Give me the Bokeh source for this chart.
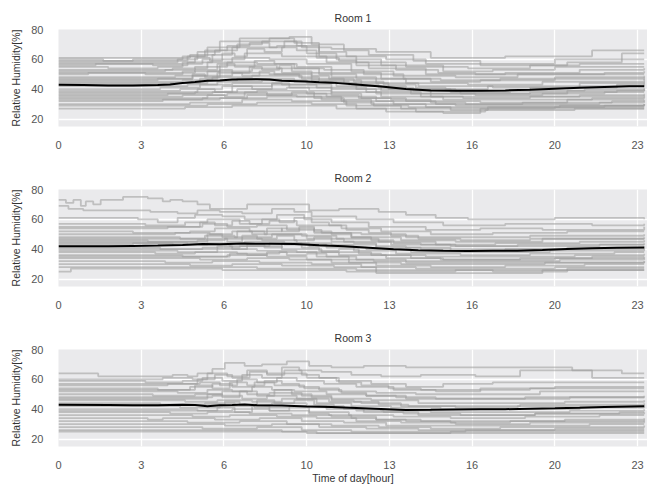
import numpy as np
from bokeh.plotting import figure
from bokeh.layouts import column
from bokeh.models import FixedTicker, Range1d
from bokeh.embed import file_html
from bokeh.resources import INLINE

# ---------------- data (hours, value) pairs, flat ----------------
X_TICKS = [0, 200, 400, 600, 800, 1000, 1200, 1400]          # minutes of day
X_TICK_LABELS = ["0", "3", "6", "10", "13", "16", "20", "23"]
Y_TICKS = [20, 40, 60, 80]
ROOM_TITLES = ["Room 1", "Room 2", "Room 3"]
Y_LABEL = "Relative Humidity[%]"
X_LABEL = "Time of day[hour]"

ROOM1_TRACES = [
    [0, 61, 4.5, 61, 5.3, 63, 6.3, 66, 7.2, 70, 8.2, 72, 9.8, 68, 11.0, 67, 12.8, 65, 15.0, 61, 18.0, 62, 21.5, 66, 23.6, 66],
    [0, 60, 1.8, 59, 3.0, 60, 5.0, 62, 6.0, 68, 7.3, 74, 9.3, 75, 10.2, 70, 11.5, 66, 12.5, 63, 14.3, 59, 17.0, 56, 20.5, 58, 22.7, 64, 23.6, 64],
    [0, 58, 2.4, 58, 4.8, 60, 5.6, 65, 6.5, 72, 8.5, 74, 9.5, 71, 10.5, 62, 12.0, 58, 14.0, 55, 16.5, 54, 19.0, 56, 21.0, 57, 23.6, 57],
    [0, 56, 1.5, 57, 3.8, 56, 5.2, 58, 6.2, 63, 7.0, 68, 8.8, 69, 10.0, 64, 11.2, 60, 13.0, 56, 15.5, 52, 17.5, 53, 20.0, 55, 23.6, 55],
    [0, 55, 2.0, 54, 4.0, 55, 5.0, 57, 5.8, 60, 7.5, 64, 9.0, 62, 10.8, 58, 12.5, 54, 14.8, 50, 18.0, 51, 21.0, 53, 23.6, 54],
    [0, 53, 3.0, 53, 4.6, 54, 6.0, 58, 7.0, 61, 8.5, 60, 10.0, 57, 11.8, 52, 13.5, 49, 16.0, 48, 18.5, 50, 22.0, 51, 23.6, 52],
    [0, 52, 2.5, 52, 4.3, 53, 5.5, 55, 6.8, 58, 8.0, 57, 9.6, 55, 11.0, 51, 13.0, 47, 15.0, 45, 17.0, 46, 20.0, 48, 23.6, 49],
    [0, 50, 1.2, 51, 3.5, 50, 5.0, 52, 6.5, 56, 8.8, 54, 10.5, 50, 12.0, 47, 14.0, 44, 16.5, 43, 19.5, 45, 23.6, 47],
    [0, 48, 2.8, 48, 4.7, 49, 6.0, 52, 7.8, 54, 9.0, 51, 11.0, 48, 12.8, 44, 14.5, 42, 17.5, 41, 21.0, 44, 23.6, 45],
    [0, 46, 1.6, 46, 4.0, 47, 5.4, 49, 7.0, 51, 8.5, 50, 10.2, 46, 12.2, 42, 14.0, 40, 16.0, 39, 19.0, 41, 22.5, 43, 23.6, 43],
    [0, 45, 3.3, 45, 5.0, 46, 6.2, 48, 7.8, 49, 9.8, 47, 11.5, 44, 13.3, 40, 15.8, 38, 18.2, 39, 21.2, 40, 23.6, 41],
    [0, 43, 2.2, 43, 4.5, 44, 6.0, 46, 7.2, 47, 9.5, 45, 11.2, 42, 13.0, 39, 15.0, 37, 18.0, 37, 20.5, 39, 23.6, 40],
    [0, 42, 3.6, 42, 5.2, 43, 6.4, 45, 8.2, 46, 10.0, 44, 12.0, 40, 14.2, 37, 16.8, 36, 19.5, 37, 22.0, 38, 23.6, 38],
    [0, 40, 1.0, 40, 4.1, 41, 5.7, 43, 7.0, 44, 9.0, 43, 11.0, 40, 12.8, 37, 15.0, 35, 17.5, 35, 21.0, 36, 23.6, 37],
    [0, 39, 2.6, 39, 4.9, 40, 6.6, 42, 8.6, 43, 10.4, 41, 12.4, 38, 14.6, 35, 16.3, 34, 19.0, 35, 23.6, 36],
    [0, 37, 3.1, 37, 5.5, 38, 7.2, 40, 9.2, 41, 11.0, 38, 13.0, 35, 15.5, 33, 18.5, 33, 21.5, 34, 23.6, 35],
    [0, 36, 1.4, 36, 4.4, 37, 6.2, 38, 8.0, 39, 10.0, 37, 12.2, 34, 14.0, 32, 17.0, 31, 20.5, 33, 23.6, 33],
    [0, 35, 2.3, 35, 5.0, 36, 6.8, 37, 8.8, 37, 10.8, 35, 12.8, 32, 15.2, 30, 17.8, 30, 21.8, 31, 23.6, 32],
    [0, 33, 3.8, 33, 5.8, 34, 7.6, 36, 9.6, 35, 11.4, 32, 13.5, 30, 16.0, 29, 19.2, 29, 23.6, 30],
    [0, 32, 1.9, 32, 4.2, 33, 6.5, 34, 8.4, 35, 10.6, 33, 12.6, 30, 14.8, 28, 18.0, 28, 22.0, 29, 23.6, 29],
    [0, 30, 2.9, 30, 5.3, 31, 7.4, 33, 9.4, 32, 11.6, 29, 13.8, 27, 16.6, 27, 20.0, 28, 23.6, 28],
    [0, 29, 3.4, 29, 6.0, 30, 8.0, 31, 10.2, 30, 12.0, 27, 14.4, 25, 17.2, 26, 20.8, 27, 23.6, 27],
    [0, 27, 2.0, 27, 5.1, 28, 7.0, 29, 9.0, 29, 11.2, 27, 13.2, 25, 15.5, 24, 17.0, 27, 23.6, 27],
    [0, 57, 5.0, 58, 5.5, 61, 6.1, 59, 6.6, 64, 7.1, 62, 7.6, 67, 8.3, 65, 9.0, 68, 9.6, 66, 10.4, 61, 11.3, 59, 12.0, 56, 13.6, 53, 15.3, 51, 16.8, 50, 19.8, 50, 23.6, 50],
    [0, 47, 4.8, 47, 5.4, 50, 5.9, 48, 6.5, 53, 7.0, 51, 7.7, 55, 8.2, 53, 8.9, 56, 9.4, 52, 10.2, 49, 10.9, 47, 11.9, 45, 13.1, 43, 14.4, 41, 15.6, 40, 17.3, 42, 19.9, 42, 23.6, 44],
    [0, 38, 4.7, 38, 5.6, 40, 6.3, 38, 7.0, 42, 7.8, 40, 8.6, 44, 9.3, 41, 10.1, 39, 11.0, 36, 12.1, 34, 13.4, 33, 15.0, 31, 16.4, 30, 18.7, 31, 22.3, 32, 23.6, 33],
    [0, 44, 5.2, 44, 5.7, 47, 6.4, 51, 7.4, 49, 8.1, 52, 8.7, 50, 9.7, 48, 10.5, 45, 11.7, 43, 12.9, 41, 14.3, 39, 16.2, 37, 19.0, 38, 22.5, 39, 23.6, 40],
    [0, 34, 5.4, 34, 6.0, 36, 6.7, 35, 7.5, 38, 8.4, 36, 9.4, 38, 10.3, 34, 11.5, 31, 12.7, 29, 14.1, 28, 15.8, 26, 17.3, 28, 20.2, 29, 23.6, 30],
    [0, 59, 4.6, 59, 5.2, 62, 5.9, 66, 6.8, 69, 7.7, 71, 8.5, 68, 9.1, 72, 9.6, 69, 10.5, 65, 11.6, 62, 13.2, 60, 14.8, 57, 16.5, 57, 20.0, 60, 23.6, 60],
    [0, 51, 4.9, 51, 5.5, 53, 6.4, 57, 7.1, 55, 7.9, 59, 8.7, 57, 9.5, 54, 10.7, 53, 12.3, 50, 13.9, 47, 15.4, 46, 17.8, 47, 20.6, 47, 23.6, 48],
]
ROOM1_MEAN = [0, 43, 1, 42.8, 2, 42.5, 3, 42.5, 4, 42.8, 4.5, 43.2, 5, 44.2, 5.5, 44.8, 6, 45.6, 6.5, 45.8,
              7, 46.5, 8, 46.6, 8.5, 46.5, 9, 45.6, 10, 45.2, 10.5, 44.6, 11, 44.4, 12, 43.2, 13, 41.8,
              14, 40.2, 15, 39.2, 16, 39.0, 17, 39.0, 18, 39.2, 19, 39.6, 20, 40.3, 21, 41.0, 22, 41.5,
              23, 42.0, 23.6, 42.0]

ROOM2_TRACES = [
    [0, 73, 0.3, 71, 0.6, 73, 0.9, 69, 1.1, 72, 1.4, 70, 1.7, 73, 2.6, 75, 3.6, 74, 4.2, 72, 4.5, 73, 5.0, 72, 5.6, 70, 6.1, 67, 7.6, 70, 10.1, 66, 11.3, 67, 12.9, 65, 14.0, 63, 15.2, 61, 16.5, 60, 20.0, 61, 23.6, 60],
    [0, 69, 0.4, 67, 1.0, 66, 2.5, 66, 3.7, 65, 4.8, 64, 5.6, 66, 6.5, 65, 7.4, 64, 8.6, 67, 9.5, 65, 10.2, 62, 12.0, 60, 13.5, 58, 15.5, 56, 18.0, 57, 21.5, 56, 23.6, 57],
    [0, 61, 1.8, 61, 3.2, 60, 4.0, 58, 4.8, 61, 5.5, 63, 6.6, 62, 7.5, 60, 8.8, 63, 9.9, 60, 11.0, 58, 12.5, 55, 14.8, 53, 17.0, 54, 19.5, 53, 23.6, 55],
    [0, 57, 1.2, 57, 3.5, 56, 5.1, 58, 6.0, 60, 7.3, 57, 8.5, 59, 9.6, 56, 11.4, 54, 13.0, 52, 15.0, 50, 17.5, 51, 20.5, 52, 23.6, 52],
    [0, 54, 2.4, 54, 4.4, 55, 5.8, 57, 6.8, 55, 8.0, 56, 9.2, 53, 10.6, 51, 12.2, 50, 14.0, 48, 16.8, 48, 19.0, 49, 23.6, 50],
    [0, 52, 1.5, 52, 3.0, 51, 5.3, 52, 6.3, 54, 7.7, 52, 9.0, 54, 10.3, 51, 11.8, 48, 13.8, 46, 16.0, 45, 19.5, 47, 23.6, 48],
    [0, 50, 2.8, 50, 4.7, 51, 6.1, 50, 7.0, 52, 8.3, 50, 9.8, 49, 11.2, 47, 12.9, 45, 15.2, 43, 17.6, 44, 21.0, 45, 23.6, 46],
    [0, 48, 2.1, 48, 4.9, 47, 5.9, 49, 7.1, 48, 8.6, 50, 10.0, 47, 11.5, 45, 13.4, 43, 15.8, 42, 18.2, 42, 21.8, 43, 23.6, 44],
    [0, 46, 1.0, 46, 3.6, 45, 5.6, 46, 6.7, 47, 8.2, 46, 9.6, 44, 11.0, 43, 12.8, 41, 14.6, 40, 17.2, 40, 20.5, 41, 23.6, 42],
    [0, 44, 3.1, 44, 4.6, 43, 6.0, 44, 7.5, 45, 9.1, 43, 10.8, 41, 12.4, 40, 14.2, 38, 16.6, 38, 19.8, 39, 23.6, 40],
    [0, 43, 2.0, 43, 3.0, 44, 5.2, 43, 6.9, 42, 8.5, 44, 10.1, 42, 11.9, 39, 13.6, 37, 16.2, 36, 19.0, 37, 22.4, 38, 23.6, 38],
    [0, 41, 1.6, 41, 4.1, 40, 5.8, 41, 7.3, 42, 9.0, 40, 10.6, 38, 12.6, 36, 14.8, 35, 17.4, 35, 20.8, 36, 23.6, 37],
    [0, 39, 2.7, 39, 4.8, 38, 6.4, 40, 8.0, 39, 9.6, 38, 11.3, 36, 13.2, 34, 15.4, 33, 18.6, 34, 21.5, 35, 23.6, 35],
    [0, 38, 1.3, 38, 3.9, 37, 5.5, 38, 7.2, 37, 8.9, 38, 10.4, 35, 12.0, 33, 14.0, 32, 16.9, 32, 20.2, 33, 23.6, 34],
    [0, 36, 2.3, 36, 5.0, 35, 6.8, 36, 8.4, 35, 10.0, 33, 11.7, 31, 13.8, 30, 16.4, 30, 19.6, 31, 23.6, 32],
    [0, 34, 3.4, 34, 5.7, 33, 7.6, 34, 9.3, 33, 11.0, 31, 12.8, 29, 15.0, 28, 18.0, 29, 21.2, 30, 23.6, 30],
    [0, 32, 1.9, 32, 4.3, 31, 6.2, 32, 8.1, 31, 10.2, 30, 12.2, 28, 14.4, 27, 17.0, 27, 20.0, 28, 23.6, 28],
    [0, 30, 2.6, 30, 5.3, 29, 7.0, 30, 9.0, 29, 11.1, 28, 12.8, 24, 18.4, 24, 19.5, 26, 23.6, 26],
    [0, 28, 3.0, 28, 6.0, 28, 8.0, 27, 10.0, 27, 12.0, 26, 14.5, 26, 17.5, 25, 20.5, 27, 23.6, 27],
    [0, 25, 0.5, 27, 2.5, 27, 4.5, 27, 6.6, 26, 9.4, 26, 11.6, 25, 13.5, 25, 16.0, 26, 23.6, 26],
    [0, 47, 5.5, 47, 6.0, 50, 6.6, 48, 7.2, 52, 7.8, 50, 8.4, 54, 9.0, 52, 9.7, 55, 10.3, 52, 11.0, 50, 11.8, 48, 12.6, 46, 13.5, 44, 14.6, 43, 16.0, 42, 18.5, 43, 23.6, 43],
    [0, 55, 5.0, 55, 5.7, 58, 6.3, 56, 7.0, 59, 7.7, 57, 8.2, 60, 8.9, 58, 9.5, 61, 10.2, 58, 10.9, 56, 11.6, 53, 12.5, 51, 13.4, 49, 14.5, 47, 16.2, 46, 19.0, 47, 23.6, 47],
    [0, 40, 5.8, 40, 6.4, 42, 7.0, 40, 7.6, 43, 8.3, 41, 9.0, 44, 9.8, 41, 10.5, 39, 11.3, 40, 12.1, 37, 13.0, 36, 14.2, 34, 15.5, 33, 17.5, 33, 20.0, 34, 23.6, 35],
    [0, 45, 5.2, 45, 6.0, 47, 6.8, 45, 7.4, 49, 8.0, 47, 8.8, 49, 9.5, 46, 10.3, 48, 11.0, 45, 11.9, 44, 12.8, 42, 14.0, 41, 15.8, 39, 18.0, 40, 21.5, 40, 23.6, 41],
    [0, 35, 6.2, 35, 6.9, 37, 7.6, 36, 8.4, 38, 9.2, 36, 10.0, 37, 10.8, 35, 11.7, 33, 12.7, 32, 14.0, 31, 16.0, 31, 19.0, 31, 23.6, 32],
]
ROOM2_MEAN = [0, 42, 2, 42, 3, 42.2, 4, 42.4, 5, 42.8, 5.8, 43.4, 6.5, 43.3, 7.5, 43.8, 8.5, 43.6, 9.5, 43.4,
              10.5, 42.6, 11.5, 42.0, 12.5, 41.0, 13.5, 40.0, 14.5, 39.3, 15.5, 39.0, 16.5, 38.8, 17.5, 38.9,
              18.5, 39.0, 19.5, 39.5, 20.5, 40.2, 21.5, 40.6, 22.5, 41.0, 23.6, 41.2]

ROOM3_TRACES = [
    [0, 64, 1.5, 64, 1.6, 62, 4.3, 62, 4.6, 63, 5.2, 62, 5.6, 64, 6.2, 67, 6.7, 71, 7.5, 69, 8.2, 70, 9.2, 72, 10.1, 69, 11.0, 68, 12.3, 69, 14.0, 68, 16.5, 68, 20.7, 66, 22.7, 64, 23.6, 64],
    [0, 60, 2.0, 60, 4.2, 61, 5.4, 60, 6.0, 64, 6.8, 62, 7.6, 66, 8.4, 64, 9.0, 68, 9.7, 66, 10.6, 65, 11.8, 63, 13.0, 62, 14.6, 63, 16.8, 62, 18.6, 66, 20.5, 66, 21.5, 61, 23.6, 61],
    [0, 59, 1.2, 59, 3.5, 58, 5.0, 59, 5.8, 61, 6.6, 59, 7.4, 63, 8.2, 61, 9.0, 64, 10.0, 61, 11.2, 59, 12.6, 57, 14.0, 55, 15.5, 57, 17.5, 58, 19.8, 58, 23.6, 58],
    [0, 56, 2.6, 56, 4.4, 57, 5.7, 58, 6.5, 56, 7.2, 60, 8.0, 58, 8.8, 61, 9.6, 59, 10.7, 57, 12.0, 55, 13.5, 53, 15.2, 52, 17.0, 54, 20.0, 55, 23.6, 55],
    [0, 54, 1.8, 54, 4.0, 53, 5.3, 55, 6.2, 57, 7.0, 55, 7.9, 58, 8.7, 56, 9.9, 54, 11.3, 52, 12.8, 51, 14.4, 50, 16.6, 50, 19.4, 52, 23.6, 52],
    [0, 52, 3.0, 52, 4.8, 51, 6.0, 53, 7.0, 52, 7.8, 55, 8.6, 53, 9.5, 52, 10.8, 50, 12.4, 49, 14.0, 47, 16.0, 47, 18.8, 48, 23.6, 49],
    [0, 50, 1.4, 50, 3.8, 49, 5.5, 50, 6.6, 52, 7.6, 50, 8.5, 51, 9.8, 49, 11.0, 47, 12.6, 46, 14.5, 44, 17.0, 44, 20.4, 45, 23.6, 46],
    [0, 48, 2.2, 48, 4.6, 48, 6.2, 49, 7.4, 47, 8.4, 49, 9.6, 47, 10.9, 45, 12.2, 44, 13.8, 42, 15.8, 42, 18.6, 43, 22.0, 43, 23.6, 44],
    [0, 46, 3.2, 46, 5.1, 45, 6.4, 46, 7.8, 45, 9.0, 47, 10.4, 44, 11.8, 42, 13.4, 41, 15.4, 40, 18.0, 40, 21.0, 41, 23.6, 42],
    [0, 44, 1.7, 44, 4.1, 43, 5.9, 44, 7.1, 43, 8.6, 44, 10.0, 42, 11.5, 40, 13.0, 39, 15.0, 38, 17.6, 38, 20.6, 39, 23.6, 40],
    [0, 42, 2.7, 42, 4.9, 41, 6.5, 42, 7.9, 41, 9.3, 42, 10.8, 40, 12.3, 38, 13.9, 37, 16.2, 36, 19.2, 37, 22.6, 38, 23.6, 38],
    [0, 40, 1.1, 40, 3.4, 40, 5.6, 39, 7.0, 40, 8.5, 39, 10.1, 38, 11.7, 36, 13.5, 35, 15.8, 34, 18.8, 35, 21.8, 36, 23.6, 36],
    [0, 38, 2.4, 38, 4.5, 37, 6.0, 38, 7.7, 37, 9.4, 36, 11.0, 35, 12.8, 33, 14.6, 32, 17.2, 32, 20.4, 33, 23.6, 34],
    [0, 36, 3.6, 36, 5.4, 35, 6.9, 36, 8.8, 35, 10.4, 34, 12.0, 32, 13.8, 31, 16.0, 30, 19.0, 31, 23.6, 32],
    [0, 34, 1.9, 34, 3.6, 33, 4.2, 34, 6.3, 33, 8.1, 34, 9.8, 32, 11.5, 31, 13.2, 29, 15.6, 29, 18.4, 29, 21.4, 30, 23.6, 30],
    [0, 32, 2.9, 32, 5.2, 31, 7.3, 32, 9.2, 30, 11.0, 29, 12.9, 28, 15.0, 27, 17.8, 28, 21.0, 28, 23.6, 29],
    [0, 30, 1.6, 30, 4.3, 30, 6.7, 29, 8.6, 30, 10.5, 28, 12.4, 27, 14.5, 26, 17.0, 26, 20.0, 27, 23.6, 27],
    [0, 28, 3.2, 28, 5.8, 27, 8.0, 28, 9.8, 26, 11.8, 25, 13.6, 25, 16.4, 26, 19.6, 26, 23.6, 26],
    [0, 26, 2.0, 26, 4.8, 26, 7.4, 26, 9.0, 25, 10.4, 24, 13.0, 24, 15.8, 25, 19.0, 25, 23.6, 25],
    [0, 25, 4.0, 25, 7.8, 25, 10.0, 24, 12.8, 24, 16.0, 24, 23.6, 24],
    [0, 57, 5.0, 57, 5.6, 60, 6.3, 63, 7.0, 61, 7.7, 65, 8.4, 63, 9.1, 66, 9.8, 63, 10.5, 61, 11.3, 58, 12.2, 56, 13.3, 54, 14.6, 53, 16.4, 53, 19.0, 54, 23.6, 54],
    [0, 47, 5.3, 47, 6.0, 50, 6.6, 48, 7.3, 52, 8.0, 49, 8.7, 53, 9.4, 50, 10.2, 48, 11.0, 46, 11.9, 45, 12.9, 43, 14.1, 42, 16.0, 41, 18.5, 42, 23.6, 43],
    [0, 39, 5.7, 39, 6.4, 41, 7.1, 38, 7.8, 42, 8.5, 39, 9.3, 41, 10.1, 37, 10.9, 36, 11.8, 34, 12.8, 33, 14.0, 32, 15.8, 31, 18.2, 32, 23.6, 33],
    [0, 53, 4.8, 53, 5.5, 56, 6.2, 54, 6.9, 58, 7.6, 56, 8.3, 59, 9.0, 57, 9.7, 55, 10.5, 53, 11.4, 51, 12.4, 49, 13.6, 48, 15.2, 47, 17.4, 47, 20.6, 48, 23.6, 48],
    [0, 43, 6.0, 43, 6.7, 45, 7.3, 43, 8.0, 46, 8.7, 44, 9.5, 46, 10.3, 43, 11.1, 41, 12.0, 39, 13.1, 38, 14.5, 36, 16.3, 36, 19.2, 37, 23.6, 38],
]
ROOM3_MEAN = [0, 43, 2, 42.8, 3, 42.6, 4, 42.6, 5, 43.0, 5.5, 42.8, 6, 42.0, 6.5, 42.6, 7, 42.8, 7.5, 43.2,
              8, 42.6, 9, 42.4, 10, 41.8, 11, 41.4, 12, 40.8, 13, 40.2, 14, 39.5, 15, 39.6, 16, 39.8,
              17, 40.0, 18, 40.0, 19, 40.3, 20, 40.6, 21, 41.0, 22, 41.5, 23.6, 42.0]

ALL_TRACES = [ROOM1_TRACES, ROOM2_TRACES, ROOM3_TRACES]
ALL_MEANS = [ROOM1_MEAN, ROOM2_MEAN, ROOM3_MEAN]

FONT = "Liberation Sans"


def make_fig(title, traces, mean, bottom, last):
    p = figure(frame_width=589, frame_height=97, output_backend="svg", toolbar_location=None,
               x_range=Range1d(0, 1424), y_range=Range1d(15, 80),
               min_border_left=58, min_border_right=0, min_border_top=29,
               min_border_bottom=bottom)
    p.title.text = title
    p.title.align = "center"
    p.title.text_font = FONT
    p.title.text_font_size = "10.5px"
    p.title.text_font_style = "normal"
    p.title.text_color = "#333333"
    p.title.standoff = 12
    p.background_fill_color = "#EAEAEC"
    p.border_fill_color = "white"
    p.outline_line_color = None

    p.xgrid.ticker = FixedTicker(ticks=X_TICKS)
    p.ygrid.ticker = FixedTicker(ticks=Y_TICKS)
    for g in (p.xgrid, p.ygrid):
        g.grid_line_color = "white"
        g.grid_line_width = 1.3

    for tr in traces:
        hs = tr[0::2]
        vs = tr[1::2]
        xs = [h * 60 for h in hs]
        p.step(xs, vs, mode="after", line_color="#9A9A9A", line_alpha=0.55, line_width=1.8)

    mh = mean[0::2]
    mv = mean[1::2]
    p.line([h * 60 for h in mh], mv, line_color="black", line_width=2.0)

    p.xaxis.ticker = FixedTicker(ticks=X_TICKS)
    p.xaxis.major_label_overrides = {t: l for t, l in zip(X_TICKS, X_TICK_LABELS)}
    p.yaxis.ticker = FixedTicker(ticks=Y_TICKS)
    for ax in (p.xaxis[0], p.yaxis[0]):
        ax.axis_line_color = None
        ax.major_tick_line_color = None
        ax.minor_tick_line_color = None
        ax.major_tick_out = 0
        ax.major_tick_in = 0
        ax.minor_tick_out = 0
        ax.minor_tick_in = 0
        ax.major_label_text_font = FONT
        ax.major_label_text_font_size = "11px"
        ax.major_label_text_color = "#555555"
        ax.axis_label_text_font = FONT
        ax.axis_label_text_font_size = "10.5px"
        ax.axis_label_text_font_style = "normal"
        ax.axis_label_text_color = "#333333"
    p.xaxis.major_label_standoff = 14
    p.yaxis.major_label_standoff = 15
    p.yaxis.axis_label = Y_LABEL
    p.yaxis.axis_label_standoff = 6
    if last:
        p.xaxis.axis_label = X_LABEL
        p.xaxis.axis_label_standoff = 0
    return p


figs = []
bottoms = [34, 34, 40]
for i in range(3):
    figs.append(make_fig(ROOM_TITLES[i], ALL_TRACES[i], ALL_MEANS[i], bottoms[i], i == 2))

layout = column(*figs, spacing=0)
open("out.html", "w").write(file_html(layout, INLINE))
